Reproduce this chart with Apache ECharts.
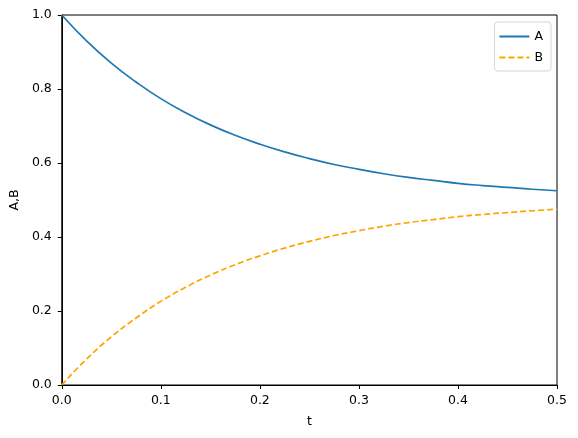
<!DOCTYPE html>
<html>
<head>
<meta charset="utf-8">
<script src="https://cdn.jsdelivr.net/npm/echarts@6/dist/echarts.min.js"></script>
<style>
  html, body { margin: 0; padding: 0; background: #fff; }
  #chart { width: 578px; height: 438px; }
</style>
</head>
<body>
<div id="chart"></div>
<script>
// values
const ts = [0, 0.025, 0.05, 0.075, 0.1, 0.125, 0.15, 0.175, 0.2, 0.225, 0.25, 0.275, 0.3, 0.325, 0.35, 0.375, 0.4, 0.425, 0.45, 0.475, 0.5]
const valuesA = [1.0, 0.930, 0.870, 0.819, 0.774, 0.736, 0.703, 0.675, 0.651, 0.630, 0.612, 0.596, 0.583, 0.571, 0.561, 0.553, 0.545, 0.539, 0.534, 0.529, 0.525]
const valuesB = [0.0, 0.070, 0.130, 0.181, 0.226, 0.264, 0.297, 0.325, 0.349, 0.370, 0.388, 0.404, 0.417, 0.429, 0.439, 0.447, 0.455, 0.461, 0.466, 0.471, 0.475]

const font = 'DejaVu Sans'
const chart = echarts.init(document.getElementById('chart'))

chart.setOption({
  animation: false,
  textStyle: { fontFamily: font },
  grid: {
    left: 61, right: 21, top: 15, bottom: 53,
    show: true, borderColor: '#000', borderWidth: 1
  },
  legend: {
    orient: 'vertical',
    right: 27,
    top: 22,
    itemWidth: 30,
    itemHeight: 12,
    itemGap: 8,
    padding: [8, 8, 7, 4],
    borderColor: '#d6d6d6',
    borderWidth: 1,
    borderRadius: 3,
    itemStyle: { opacity: 0 },
    textStyle: { fontFamily: font, fontSize: 12.5, color: '#000' },
    data: ['A', 'B']
  },
  xAxis: {
    type: 'value',
    min: 0, max: 0.5, interval: 0.1,
    name: 't',
    nameLocation: 'middle',
    nameGap: 30,
    nameTextStyle: { fontFamily: font, fontSize: 12.5, color: '#000' },
    axisLine: { lineStyle: { color: '#000', width: 1 } },
    axisTick: { show: true, length: 4, lineStyle: { color: '#000' } },
    axisLabel: { color: '#000', fontSize: 12.5, margin: 9, formatter: v => v.toFixed(1) },
    splitLine: { show: false }
  },
  yAxis: {
    type: 'value',
    min: 0, max: 1, interval: 0.2,
    name: 'A,B',
    nameLocation: 'middle',
    nameGap: 35,
    nameTextStyle: { fontFamily: font, fontSize: 12.5, color: '#000' },
    axisLine: { show: true, lineStyle: { color: '#000', width: 1 } },
    axisTick: { show: true, length: 4, lineStyle: { color: '#000' } },
    axisLabel: { color: '#000', fontSize: 12.5, margin: 10, formatter: v => v.toFixed(1) },
    splitLine: { show: false }
  },
  series: [
    {
      type: 'line',
      name: 'A',
      data: ts.map((t, i) => [t, valuesA[i]]),
      smooth: true,
      symbol: 'none',
      lineStyle: { color: '#1f77b4', width: 1.7 },
      itemStyle: { color: '#1f77b4' }
    },
    {
      type: 'line',
      name: 'B',
      data: ts.map((t, i) => [t, valuesB[i]]),
      smooth: true,
      symbol: 'none',
      lineStyle: { color: '#ffa500', width: 1.7, type: [6, 3] },
      itemStyle: { color: '#ffa500' }
    }
  ]
})
</script>
</body>
</html>
